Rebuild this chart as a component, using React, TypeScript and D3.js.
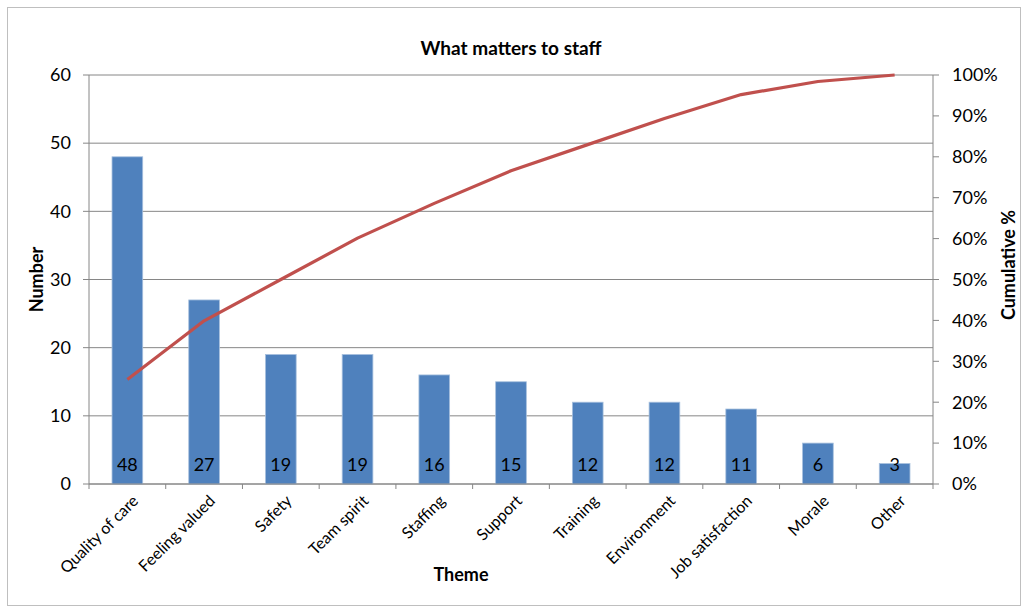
import { useMemo } from "react";
import * as d3 from "d3";

const themes = [
  "Quality of care",
  "Feeling valued",
  "Safety",
  "Team spirit",
  "Staffing",
  "Support",
  "Training",
  "Environment",
  "Job satisfaction",
  "Morale",
  "Other",
];
const counts = [48, 27, 19, 19, 16, 15, 12, 12, 11, 6, 3];
const leftTicks = [0, 10, 20, 30, 40, 50, 60];
const rightTicks = [0, 0.1, 0.2, 0.3, 0.4, 0.5, 0.6, 0.7, 0.8, 0.9, 1];

const W = 1028;
const H = 606;
const margin = { top: 75, right: 95, bottom: 122, left: 89 };
const font = "Lato, 'Open Sans', sans-serif";

export default function App() {
  const x = useMemo(
    () => d3.scaleBand<string>().domain(themes).range([margin.left, W - margin.right]).paddingInner(0.6).paddingOuter(0.3),
    []
  );
  const xOuter = d3.scaleBand<string>().domain(themes).range([margin.left, W - margin.right]);
  const y = d3.scaleLinear().domain([0, 60]).range([H - margin.bottom, margin.top]);
  const y2 = d3.scaleLinear().domain([0, 1]).range([H - margin.bottom, margin.top]);

  const total = d3.sum(counts);
  const cum = d3.cumsum(counts).map((v) => v / total);

  const line = d3
    .line<number>()
    .x((_, i) => (xOuter(themes[i]) as number) + xOuter.bandwidth() / 2)
    .y((d) => y2(d));

  const x0 = margin.left;
  const x1 = W - margin.right;
  const yb = H - margin.bottom;
  const axisColor = "#868686";

  return (
    <svg width={W} height={H} style={{ position: "absolute", left: 0, top: 0, background: "#fff" }} fontFamily={font}>
      <rect x={7.5} y={7.5} width={W - 15} height={H - 8} fill="#fff" stroke="#bfbfbf" />
      <text x={511} y={55} textAnchor="middle" fontSize={19} fontWeight="bold">
        What matters to staff
      </text>

      {/* gridlines + left axis */}
      {leftTicks.map((t) => (
        <g key={t}>
          <line x1={x0 - 6} x2={x1} y1={y(t)} y2={y(t)} stroke={axisColor} strokeWidth={1} />
          <text x={x0 - 18} y={y(t)} dy="0.35em" textAnchor="end" fontSize={18}>
            {t}
          </text>
        </g>
      ))}
      <line x1={x0} x2={x0} y1={margin.top} y2={yb} stroke={axisColor} />

      {/* bars */}
      {counts.map((c, i) => {
        const bx = x(themes[i]) as number;
        return (
          <g key={themes[i]}>
            <rect x={bx} y={y(c)} width={x.bandwidth()} height={yb - y(c)} fill="#4F81BD" stroke="#a7c0de" strokeWidth={0.8} />
            <text x={bx + x.bandwidth() / 2} y={465} dy="0.35em" textAnchor="middle" fontSize={18}>
              {c}
            </text>
          </g>
        );
      })}

      {/* bottom axis */}
      <line x1={x0} x2={x1} y1={yb} y2={yb} stroke={axisColor} />
      {themes.map((t, i) => {
        const tx = (xOuter(t) as number);
        return <line key={"tk" + i} x1={tx} x2={tx} y1={yb} y2={yb + 5} stroke={axisColor} />;
      })}
      <line x1={x1} x2={x1} y1={yb} y2={yb + 5} stroke={axisColor} />
      {themes.map((t) => {
        const cx = (xOuter(t) as number) + xOuter.bandwidth() / 2;
        return (
          <text
            key={"lbl" + t}
            transform={`translate(${cx + 8},${yb + 14}) rotate(-45)`}
            textAnchor="end"
            fontSize={16}
            dy="0.35em"
          >
            {t}
          </text>
        );
      })}

      {/* right axis */}
      <line x1={x1} x2={x1} y1={margin.top} y2={yb} stroke={axisColor} />
      {rightTicks.map((t) => (
        <g key={"r" + t}>
          <line x1={x1} x2={x1 + 6} y1={y2(t)} y2={y2(t)} stroke={axisColor} />
          <text x={x1 + 19} y={y2(t)} dy="0.35em" fontSize={18}>
            {d3.format(".0%")(t)}
          </text>
        </g>
      ))}

      {/* cumulative line */}
      <path d={line(cum) ?? ""} fill="none" stroke="#C0504D" strokeWidth={3.2} strokeLinejoin="round" />

      {/* axis titles */}
      <text transform={`translate(43,${(margin.top + yb) / 2}) rotate(-90)`} textAnchor="middle" fontSize={18} fontWeight="bold">
        Number
      </text>
      <text transform={`translate(1015,265) rotate(-90)`} textAnchor="middle" fontSize={18} fontWeight="bold">
        Cumulative %
      </text>
      <text x={461} y={581} textAnchor="middle" fontSize={18} fontWeight="bold">
        Theme
      </text>
    </svg>
  );
}
